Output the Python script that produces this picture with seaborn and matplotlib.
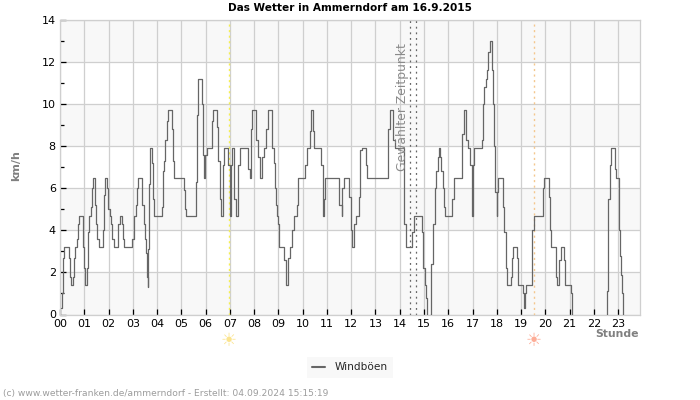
import numpy as np
import pandas as pd
import seaborn as sns
from matplotlib import pyplot as plt
from matplotlib.lines import Line2D

TITLE = "Das Wetter in Ammerndorf am 16.9.2015"
FOOTER = "(c) www.wetter-franken.de/ammerndorf - Erstellt: 04.09.2024 15:15:19"
HOUR_LABELS = [f"{h:02d}" for h in range(24)]
SUN_TIMES = [6.95, 19.52]
SUN_COLORS = ["#fbe48e", "#fdac96"]
SELECTED_TIMES = [14.41, 14.68]

# (hour, km/h), nan = no line drawn
gust_points = [
    (0.04, 0.3), (0.07, 1.0), (0.11, 1.8), (0.14, 2.7), (0.18, 3.2), (0.37, 2.7), (0.40, 1.8), (0.44, 1.4),
    (0.54, 1.8), (0.58, 2.7), (0.61, 3.2), (0.69, 3.6), (0.73, 4.3), (0.77, 4.7), (0.94, 3.2), (0.97, 2.2),
    (1.02, 1.4), (1.12, 2.2), (1.14, 3.9), (1.19, 4.7), (1.27, 5.1), (1.31, 6.0), (1.34, 6.5), (1.43, 5.2),
    (1.50, 4.3), (1.54, 3.6), (1.60, 3.2), (1.78, 4.0), (1.81, 5.7), (1.85, 6.5), (1.94, 6.0), (1.99, 5.0),
    (2.06, 4.7), (2.11, 4.3), (2.15, 3.6), (2.22, 3.2), (2.39, 3.6), (2.41, 4.3), (2.46, 4.7), (2.57, 4.3),
    (2.61, 3.6), (2.63, 3.2), (2.98, 3.6), (3.05, 4.7), (3.14, 5.2), (3.17, 6.0), (3.21, 6.5), (3.38, 5.2),
    (3.48, 4.3), (3.52, 3.6), (3.54, 2.9), (3.59, 1.8), (3.61, 1.3), (3.63, 3.1), (3.66, 6.2), (3.70, 7.9),
    (3.79, 7.2), (3.85, 5.5), (3.88, 4.7), (4.21, 5.1), (4.26, 6.8), (4.30, 7.3), (4.34, 8.3), (4.39, 9.2),
    (4.44, 9.7), (4.62, 8.8), (4.66, 7.3), (4.70, 6.5), (5.13, 5.9), (5.17, 5.0), (5.20, 4.7), (5.61, 6.3),
    (5.66, 9.5), (5.70, 11.2), (5.86, 10.0), (5.89, 7.6), (5.93, 6.5), (5.96, 7.6), (6.06, 7.9), (6.25, 8.3),
    (6.28, 9.2), (6.32, 9.7), (6.48, 8.9), (6.52, 7.3), (6.58, 5.5), (6.62, 4.7), (6.71, 7.1), (6.77, 7.9),
    (6.92, 7.1), (6.99, 4.7), (7.03, 7.1), (7.08, 7.9), (7.18, 5.5), (7.25, 4.7), (7.34, 7.1), (7.43, 7.9),
    (7.74, 6.9), (7.83, 6.5), (7.86, 8.8), (7.91, 9.7), (8.06, 8.3), (8.17, 7.5), (8.24, 6.5), (8.32, 7.5),
    (8.42, 7.9), (8.49, 8.8), (8.57, 9.7), (8.74, 7.9), (8.82, 7.2), (8.86, 6.0), (8.89, 5.2), (8.93, 4.7),
    (9.00, 4.3), (9.04, 3.2), (9.25, 2.6), (9.33, 1.4), (9.40, 2.7), (9.48, 3.2), (9.55, 4.0), (9.66, 4.7),
    (9.76, 5.2), (9.80, 6.5), (10.10, 7.1), (10.19, 7.9), (10.30, 8.7), (10.35, 9.7), (10.43, 8.7),
    (10.48, 7.9), (10.77, 7.1), (10.83, 5.2), (10.85, 4.7), (10.89, 5.5), (10.94, 6.5), (11.51, 5.2),
    (11.61, 4.7), (11.63, 6.0), (11.69, 6.5), (11.92, 5.6), (12.01, 4.0), (12.05, 3.2), (12.13, 4.3),
    (12.20, 4.7), (12.34, 5.6), (12.38, 7.8), (12.43, 7.9), (12.59, 7.1), (12.67, 6.5), (13.50, 8.8),
    (13.59, 9.7), (13.74, 8.3), (13.80, 7.9), (14.18, 4.3), (14.26, 3.2), (14.50, 3.9), (14.59, 4.7),
    (14.91, 3.9), (14.97, 2.2), (15.02, 1.4), (15.09, 0.8), (15.13, 0.0), (15.19, float("nan")),
    (15.24, 0.0), (15.30, 2.4), (15.35, 3.6), (15.38, 4.3), (15.45, 6.0), (15.50, 6.8), (15.56, 7.5),
    (15.60, 7.9), (15.66, 7.5), (15.71, 6.8), (15.77, 6.0), (15.82, 5.1), (15.85, 4.7), (16.15, 5.5),
    (16.23, 6.5), (16.58, 8.6), (16.66, 9.7), (16.73, 8.3), (16.83, 7.9), (16.90, 7.1), (16.97, 4.7),
    (17.02, 7.1), (17.06, 7.9), (17.39, 8.3), (17.43, 10.0), (17.49, 10.8), (17.54, 11.2), (17.59, 11.6),
    (17.64, 12.5), (17.70, 13.0), (17.81, 11.6), (17.83, 10.0), (17.89, 8.0), (17.94, 5.8), (17.99, 4.7),
    (18.01, 5.8), (18.06, 6.5), (18.26, 5.1), (18.30, 3.9), (18.37, 2.2), (18.41, 1.4), (18.59, 1.8),
    (18.63, 2.7), (18.68, 3.2), (18.84, 2.7), (18.88, 1.4), (19.09, 1.0), (19.13, 0.3), (19.17, 1.0),
    (19.21, 1.4), (19.43, 2.7), (19.47, 4.0), (19.53, 4.7), (19.92, 6.0), (19.96, 6.5), (20.17, 5.6),
    (20.21, 4.0), (20.25, 3.2), (20.43, 1.8), (20.48, 1.4), (20.58, 2.6), (20.63, 3.2), (20.75, 2.6),
    (20.79, 1.4), (20.83, 1.4), (21.04, 1.0), (21.09, 0.0), (21.14, float("nan")),
    (22.52, 0.0), (22.53, 1.1), (22.57, 3.5), (22.60, 5.5), (22.66, 7.1), (22.70, 7.9), (22.85, 7.6),
    (22.89, 6.9), (22.92, 6.5), (23.03, 4.0), (23.07, 2.8), (23.11, 1.9), (23.17, 1.0), (23.22, 0.0),
    (23.28, float("nan")),
]
gust_hours = [p[0] for p in gust_points]
gust_values = [p[1] for p in gust_points]


def main() -> None:
    sns.set_theme(style="white")
    plt.rcParams["font.family"] = "DejaVu Sans"

    fig, ax = plt.subplots(figsize=(7, 4), dpi=100)
    fig.subplots_adjust(left=60 / 700, right=640 / 700, top=1 - 20 / 400, bottom=1 - 314.5 / 400)

    df = pd.DataFrame({"hour": gust_hours, "kmh": gust_values})
    # lineplot drops nan, so gaps have to be separate units
    df["segment"] = df["kmh"].isna().cumsum()
    df = df.dropna()

    for low in [0, 4, 8, 12]:
        ax.axhspan(low, low + 2, color="#f8f8f8", lw=0, zorder=0)
    ax.grid(True, color="#cfcfcf", lw=0.9)
    ax.set_axisbelow(True)

    sns.lineplot(
        data=df, x="hour", y="kmh", units="segment", estimator=None, sort=False,
        drawstyle="steps-post", color="#666666", lw=0.9, ax=ax, zorder=3,
    )

    ax.axvline(SUN_TIMES[0], color="#f5ef50", lw=1, ls=(0, (1.5, 2.5)), zorder=2)
    ax.axvline(SUN_TIMES[1], color="#f4c78e", lw=1, ls=(0, (1.5, 2.5)), zorder=2)
    for t in SELECTED_TIMES:
        ax.axvline(t, color="#666666", lw=0.9, ls=(0, (1.5, 3)), zorder=2)
    ax.text(14.13, 9.84, "Gewählter Zeitpunkt", rotation=90, ha="center", va="center",
            fontsize=8.9, color="#8a8a8a", zorder=4)

    ax.set_xlim(0, 23.9)
    ax.set_ylim(0, 14)
    ax.set_xticks(range(24))
    ax.set_xticklabels(HOUR_LABELS)
    ax.set_yticks(range(0, 15, 2))
    ax.set_yticks(range(1, 15, 2), minor=True)
    ax.tick_params(axis="both", which="major", direction="in", length=4, width=0.9, color="black",
                   labelsize=8, labelcolor="black", pad=3, left=True, bottom=True)
    ax.tick_params(axis="y", which="minor", direction="in", length=3, width=0.9, color="black", left=True)
    for spine in ax.spines.values():
        spine.set_color("#cfcfcf")
        spine.set_linewidth(0.9)

    ax.set_xlabel("")
    ax.set_ylabel("")
    fig.text(16 / 700, 1 - 166 / 400, "km/h", rotation=90, ha="center", va="center",
             fontsize=8, fontweight="bold", color="#808080")
    fig.text(639 / 700, 1 - 334 / 400, "Stunde", ha="right", va="center",
             fontsize=7.8, fontweight="bold", color="#808080")
    fig.text(350 / 700, 1 - 8 / 400, TITLE, ha="center", va="center", fontsize=7.55, fontweight="bold",
             color="black")
    fig.text(3 / 700, 1 - 393.5 / 400, FOOTER, ha="left", va="center", fontsize=6.6, color="#9c9c9c")

    for t, c in zip(SUN_TIMES, SUN_COLORS):
        ax.annotate("☀", xy=(t, 0), xycoords="data", xytext=(0, -27), textcoords="offset pixels",
                    ha="center", va="center", fontsize=13, color=c, annotation_clip=False)

    handle = Line2D([], [], color="#666666", lw=1.5)
    fig.legend(
        [handle], ["Windböen"], loc="center", bbox_to_anchor=(350 / 700, 1 - 367.5 / 400),
        fontsize=7.6, frameon=True, facecolor="#f8f8f8", edgecolor="none", framealpha=1,
        fancybox=False, handlelength=1.2, handletextpad=0.9, borderpad=0.5,
    )

    fig.savefig("out.png", dpi=100)
    plt.close(fig)


if __name__ == "__main__":
    main()
